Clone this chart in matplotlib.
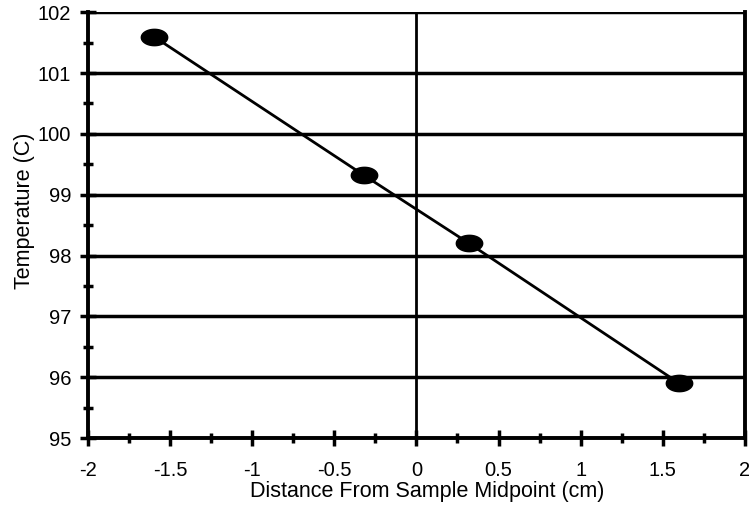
import matplotlib
matplotlib.use("Agg")
import matplotlib.pyplot as plt
import numpy as np
from matplotlib.path import Path
from matplotlib.ticker import MultipleLocator

distance = [-1.6, -0.32, 0.32, 1.6]
temperature = [101.6, 99.32, 98.2, 95.9]
xticks = [-2, -1.5, -1, -0.5, 0, 0.5, 1, 1.5, 2]
xticklabels = ["-2", "-1.5", "-1", "-0.5", "0", "0.5", "1", "1.5", "2"]
yticks = [95, 96, 97, 98, 99, 100, 101, 102]

plt.rcParams['font.family'] = ['Liberation Sans', 'DejaVu Sans']

fig = plt.figure(figsize=(7.49, 5.07), dpi=100)
ax = fig.add_axes([0.1175, 0.136, 0.877, 0.840])

t = np.linspace(0, 2*np.pi, 60)
ell = Path(np.column_stack([np.cos(t), 0.62*np.sin(t)]), closed=True)

ax.plot(distance, temperature, color='black', lw=2, marker=ell, ms=19,
        mfc='black', mec='black', zorder=4, clip_on=False)

ax.set_xlim(-2, 2)
ax.set_ylim(95, 102)
for y in yticks:
    ax.axhline(y, color='black', lw=2.5, zorder=2)
ax.axvline(0, color='black', lw=2, zorder=2)

for s in ['left', 'bottom', 'right']:
    ax.spines[s].set_linewidth(2.8)
ax.spines['top'].set_visible(False)

ax.set_xticks(xticks)
ax.set_xticklabels(xticklabels)
ax.set_yticks(yticks)
ax.xaxis.set_minor_locator(MultipleLocator(0.25))
ax.yaxis.set_minor_locator(MultipleLocator(0.5))
ax.tick_params(axis='both', which='major', direction='inout', length=12, width=2.5,
               labelsize=14.5, color='black')
ax.tick_params(axis='both', which='minor', direction='inout', length=7, width=2.5)
ax.tick_params(axis='x', which='major', pad=10.5)
ax.tick_params(axis='y', which='major', pad=6)

ax.set_xlabel("Distance From Sample Midpoint (cm)", fontsize=15.5)
ax.set_ylabel("Temperature (C)", fontsize=15.5)
ax.xaxis.set_label_coords(0.516, -0.102)
ax.yaxis.set_label_coords(-0.080, 0.533)

fig.savefig("out.png", dpi=100)
